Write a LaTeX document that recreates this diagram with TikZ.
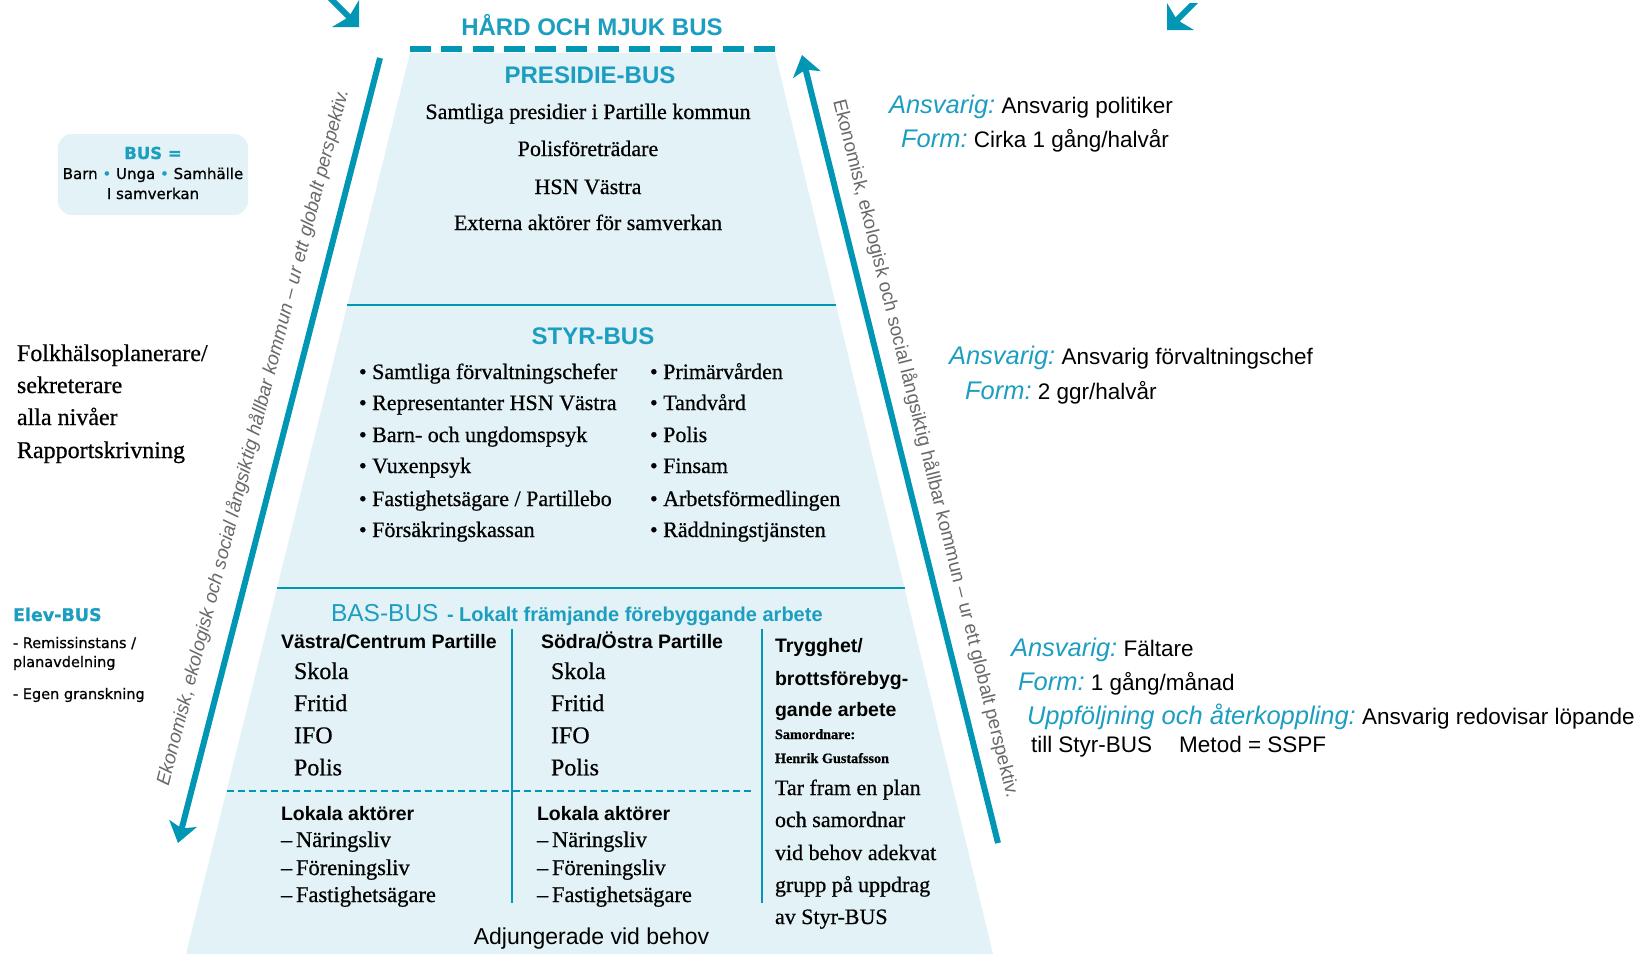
\documentclass[tikz,border=0pt]{standalone}
\usepackage{fontspec}
\setmainfont{Liberation Serif}[FakeBold=0.6]
\newfontfamily\arialf{Liberation Sans}
\newfontfamily\dejavuf{DejaVu Sans}[FakeBold=0.8]
\usetikzlibrary{arrows.meta}
\definecolor{tealline}{RGB}{0,150,180}
\definecolor{tealtext}{RGB}{28,158,192}
\definecolor{lightbg}{RGB}{226,242,246}
\definecolor{greytext}{RGB}{105,105,105}
\newcommand{\fsz}[1]{\fontsize{#1}{#1}\selectfont}
\newcommand{\lblv}[2]{{\color{tealtext}\itshape\fontsize{25.5}{30}\selectfont #1}{\fontsize{22.5}{27}\selectfont\ #2}}
\begin{document}
\begin{tikzpicture}[x=1pt,y=-1pt,
  every node/.style={inner sep=0pt, outer sep=0pt},
  titlebus/.style={font=\arialf\bfseries\fsz{24}, text=tealtext, anchor=base},
  serifc/.style={font=\fsz{22}, anchor=base},
  seriflist/.style={font=\fsz{22}, anchor=base west},
  basitem/.style={font=\fsz{24}, anchor=base west},
  dashitem/.style={font=\fsz{22.5}, anchor=base west},
  colhead/.style={font=\arialf\bfseries\fsz{19.5}, anchor=base west},
  smallserif/.style={font=\bfseries\fsz{14.2}, anchor=base west},
  rightlbl/.style={font=\arialf, anchor=base west},
  leftserif/.style={font=\fsz{24}, anchor=base west},
  elevitem/.style={font=\dejavuf\fsz{14.5}, anchor=base west},
  busbox/.style={font=\dejavuf\fsz{15}, anchor=base},
  rottext/.style={font=\arialf\fsz{19}, text=greytext},
  thinteal/.style={draw=tealline, line width=2pt},
  bigarrow/.style={draw=tealline, line width=6pt, -{Stealth[length=20pt,width=28pt,inset=5pt]}}
]
\useasboundingbox (0,0) rectangle (1643,954);
\clip (0,0) rectangle (1643,954);

% trapezoid
\fill[lightbg] (410,53) -- (775,53) -- (993,954) -- (186,954) -- cycle;
\draw[tealline, line width=6pt, dash pattern=on 21pt off 10.27pt] (410,49) -- (775,49);

% dividers
\draw[thinteal] (347.4,305) -- (836,305);
\draw[thinteal] (277,588) -- (904.5,588);
\draw[tealline, line width=1.6pt, dash pattern=on 7pt off 4pt] (226.5,791) -- (754,791);
\draw[thinteal] (512,629) -- (512,903);
\draw[thinteal] (762,629) -- (762,903);

% top small arrowheads (cut off)
\fill[tealline] (359,27) -- (332,27) -- (346.3,18.5) -- (327.8,0) -- (336.2,0) -- (350.5,14.3) -- (359,0) -- cycle;
\fill[tealline] (1167,30) -- (1194,30) -- (1179.7,21.5) -- (1198.2,3) -- (1189.8,3) -- (1175.5,17.3) -- (1167,3) -- cycle;

% long arrows
\coordinate (latop) at (380,58);
\coordinate (labot) at (178,843);
\coordinate (rabot) at (998,843);
\coordinate (ratop) at (802,55);
\draw[bigarrow] (latop) -- (labot);
\draw[bigarrow] (rabot) -- (ratop);
\node[rottext, font=\arialf\itshape\fsz{19}, rotate=75.5] (ltxt) at (253,437.5) {Ekonomisk, ekologisk och social långsiktig hållbar kommun – ur ett globalt perspektiv.};
\node[rottext, rotate=-76] (rtxt) at (925.7,448.5) {Ekonomisk, ekologisk och social långsiktig hållbar kommun – ur ett globalt perspektiv.};

% titles
\node[titlebus] (hard) at (592,35) {HÅRD OCH MJUK BUS};
\node[titlebus] (pres) at (590,83) {PRESIDIE-BUS};
\node[serifc] (p1) at (588,119) {Samtliga presidier i Partille kommun};
\node[serifc] (p2) at (588,156) {Polisföreträdare};
\node[serifc] (p3) at (588,194) {HSN Västra};
\node[serifc] (p4) at (588,230) {Externa aktörer för samverkan};

% STYR
\node[titlebus] (styr) at (593,344) {STYR-BUS};
\node[seriflist] (s1) at (359,379) {\textbullet\ Samtliga förvaltningschefer};
\node[seriflist] (s2) at (359,410) {\textbullet\ Representanter HSN Västra};
\node[seriflist] (s3) at (359,442) {\textbullet\ Barn- och ungdomspsyk};
\node[seriflist] (s4) at (359,473) {\textbullet\ Vuxenpsyk};
\node[seriflist] (s5) at (359,506) {\textbullet\ Fastighetsägare / Partillebo};
\node[seriflist] (s6) at (359,537) {\textbullet\ Försäkringskassan};
\node[seriflist] (t1) at (650,379) {\textbullet\ Primärvården};
\node[seriflist] (t2) at (650,410) {\textbullet\ Tandvård};
\node[seriflist] (t3) at (650,442) {\textbullet\ Polis};
\node[seriflist] (t4) at (650,473) {\textbullet\ Finsam};
\node[seriflist] (t5) at (650,506) {\textbullet\ Arbetsförmedlingen};
\node[seriflist] (t6) at (650,537) {\textbullet\ Räddningstjänsten};

% BAS
\node[anchor=base west, font=\arialf\fsz{24.5}, text=tealtext] (bas) at (331,621) {BAS-BUS};
\node[anchor=base west, font=\arialf\bfseries\fsz{20}, text=tealtext] (bassub) at (447,621) {- Lokalt främjande förebyggande arbete};
\node[colhead] (c1h) at (281,648) {Västra/Centrum Partille};
\node[colhead] (c2h) at (541,648) {Södra/Östra Partille};
\foreach \t [count=\i] in {Skola,Fritid,IFO,Polis}{
  \pgfmathsetmacro{\yy}{679+32.1*(\i-1)}
  \node[basitem] (a\i) at (294,\yy) {\t};
  \node[basitem] (b\i) at (551,\yy) {\t};
}
\node[colhead] (c1l) at (281,820) {Lokala aktörer};
\node[colhead] (c2l) at (537,820) {Lokala aktörer};
\node[dashitem] (d11) at (281,847) {–\,Näringsliv};
\node[dashitem] (d12) at (281,875) {–\,Föreningsliv};
\node[dashitem] (d13) at (281,902) {–\,Fastighetsägare};
\node[dashitem] (d21) at (537,847) {–\,Näringsliv};
\node[dashitem] (d22) at (537,875) {–\,Föreningsliv};
\node[dashitem] (d23) at (537,902) {–\,Fastighetsägare};
\node[colhead] (k1) at (775,652) {Trygghet/};
\node[colhead] (k2) at (775,685) {brottsförebyg-};
\node[colhead] (k3) at (775,716) {gande arbete};
\node[smallserif] (k4) at (775,739) {Samordnare:};
\node[smallserif] (k5) at (775,763) {Henrik Gustafsson};
\node[seriflist] (k6) at (775,795) {Tar fram en plan};
\node[seriflist] (k7) at (775,827) {och samordnar};
\node[seriflist] (k8) at (775,860) {vid behov adekvat};
\node[seriflist] (k9) at (775,892) {grupp på uppdrag};
\node[seriflist] (k10) at (775,924) {av Styr-BUS};
\node[anchor=base, font=\arialf\fsz{23}] (adj) at (591.5,944) {Adjungerade vid behov};

% BUS box
\node[draw=none, fill=lightbg, rounded corners=14pt, minimum width=190pt, minimum height=81pt] (busrect) at (153,174.5) {};
\node[busbox, font=\dejavuf\bfseries\fsz{16.5}, text=tealtext] (busq) at (153,159) {BUS =};
\node[busbox] (busl1) at (153,179) {Barn {\color{tealtext}\textbullet} Unga {\color{tealtext}\textbullet} Samhälle};
\node[busbox] (busl2) at (153,199) {I samverkan};

% left texts
\node[leftserif] (f1) at (17,361) {Folkhälsoplanerare/};
\node[leftserif] (f2) at (17,393) {sekreterare};
\node[leftserif] (f3) at (17,425) {alla nivåer};
\node[leftserif] (f4) at (17,458) {Rapportskrivning};
\node[anchor=base west, font=\dejavuf\bfseries\fsz{17.5}, text=tealtext] (elev) at (13,621) {Elev-BUS};
\node[elevitem] (e1) at (13,648) {- Remissinstans /};
\node[elevitem] (e2) at (13,667) {planavdelning};
\node[elevitem] (e3) at (13,699) {- Egen granskning};

% right texts
\node[rightlbl] (r11) at (889,113) {\lblv{Ansvarig:}{Ansvarig politiker}};
\node[rightlbl] (r12) at (901,147) {\lblv{Form:}{Cirka 1 gång/halvår}};
\node[rightlbl] (r21) at (949,364) {\lblv{Ansvarig:}{Ansvarig förvaltningschef}};
\node[rightlbl] (r22) at (965,399) {\lblv{Form:}{2 ggr/halvår}};
\node[rightlbl] (r31) at (1011,656) {\lblv{Ansvarig:}{Fältare}};
\node[rightlbl] (r32) at (1018,690) {\lblv{Form:}{1 gång/månad}};
\node[rightlbl] (r33) at (1027,724) {\lblv{Uppföljning och återkoppling:}{Ansvarig redovisar löpande}};
\node[rightlbl, font=\arialf\fsz{22.5}] (r34) at (1031,752) {till Styr-BUS\hspace{27pt}Metod = SSPF};
\end{tikzpicture}
\end{document}
